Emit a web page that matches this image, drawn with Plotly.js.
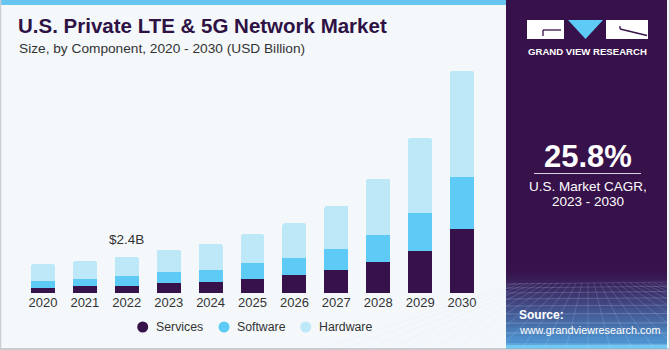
<!DOCTYPE html>
<html>
<head>
<meta charset="utf-8">
<script src="https://cdn.plot.ly/plotly-3.0.1.min.js"></script>
<style>html,body{margin:0;padding:0;background:#F4F8FB;}#chart{width:670px;height:350px;}</style>
</head>
<body>
<div id="chart"></div>
<script>
// ---- data ----
const years = ['2020','2021','2022','2023','2024','2025','2026','2027','2028','2029','2030'];
const services = [0.33, 0.48, 0.48, 0.66, 0.73, 0.95, 1.19, 1.52, 2.05, 2.80, 4.24];
const software = [0.46, 0.46, 0.64, 0.73, 0.81, 1.01, 1.11, 1.39, 1.79, 2.50, 3.44];
const hardware = [1.11, 1.17, 1.28, 1.48, 1.70, 1.92, 2.32, 2.85, 3.71, 4.95, 7.02];
const seriesNames = ['Services', 'Software', 'Hardware'];
const labelYear = '2022';
const labelText = '$2.4B';
const cagrText = '25.8%';

// ---- style ----
const colors = ['#37114A', '#5ECBF6', '#BDE8F8'];
const W = 670, H = 350;
const L = 22, R = 187, T = 60, B = 57;
const PW = W - L - R, PH = H - T - B;
const fx = px => (px - L) / PW;
const fy = py => (H - B - py) / PH;
const panelColor = '#37114A';

const series = [services, software, hardware];
const traces = series.map((vals, i) => ({
  type: 'bar', x: years, y: vals, name: seriesNames[i],
  marker: Object.assign({color: colors[i]}, i === 2 ? {cornerradius: 2} : {}),
  width: 0.57, showlegend: false, hoverinfo: 'x+y+name'
}));

const totals = years.map((_, i) => services[i] + software[i] + hardware[i]);
const li = years.indexOf(labelYear);

const shapes = [];
const rect = (x0, y0, x1, y1, color, extra) => shapes.push(Object.assign({
  type: 'rect', xref: 'paper', yref: 'paper', x0: fx(x0), x1: fx(x1), y0: fy(y1), y1: fy(y0),
  fillcolor: color, line: {width: 0}, layer: 'above'
}, extra || {}));

// frame pieces
rect(0, 0, 506, 5, '#67C6F0');
rect(0, 0, 1.2, 350, '#C9CDD2');
rect(0, 348, 670, 350, '#C9CDD2');
rect(668.8, 0, 670, 350, '#C9CDD2');
// right panel
rect(506, 0, 667, 348, panelColor);
// gradient at bottom of panel
const g0 = [55, 17, 74], g1 = [80, 160, 220];
const gTop = 268, gBot = 348, steps = 28;
for (let s = 0; s < steps; s++) {
  const t = s / (steps - 1);
  const tt = Math.pow(t, 1.2);
  const c = g0.map((v, k) => Math.round(v + (g1[k] - v) * tt));
  const y0 = gTop + (gBot - gTop) * s / steps, y1 = gTop + (gBot - gTop) * (s + 1) / steps + 0.5;
  rect(506, y0, 667, y1, `rgb(${c[0]},${c[1]},${c[2]})`);
}
rect(506, 345, 667, 348, '#6FC9F2');
// perspective grid
const gridLine = (x0, y0, x1, y1, op) => shapes.push({
  type: 'line', xref: 'paper', yref: 'paper', x0: fx(x0), x1: fx(x1), y0: fy(y0), y1: fy(y1),
  line: {color: `rgba(200,225,255,${op})`, width: 0.8}, layer: 'above'
});
[284, 288, 293, 299, 306, 314, 323, 333, 344].forEach((y, k) => gridLine(506, y, 667, y - 2 + k * 0.3, 0.22 + k * 0.02));
for (let k = -12; k <= 12; k++) {
  gridLine(588 + k * 6, 283, 588 + k * 22, 348, 0.22);
}
// logo
rect(527, 20, 564, 39, '#FFFFFF');
rect(606, 20, 648, 39, '#FFFFFF');
shapes.push({type: 'path', xref: 'paper', yref: 'paper', layer: 'above',
  path: `M ${fx(568)} ${fy(20)} L ${fx(603)} ${fy(20)} L ${fx(585.5)} ${fy(39)} Z`,
  fillcolor: '#5ECBF6', line: {width: 0}});
const darkLine = (x0, y0, x1, y1) => shapes.push({type: 'line', xref: 'paper', yref: 'paper', layer: 'above',
  x0: fx(x0), x1: fx(x1), y0: fy(y0), y1: fy(y1), line: {color: panelColor, width: 1.3}});
darkLine(543, 30, 561, 30); darkLine(543, 30, 543, 36);
darkLine(620, 29, 647, 35.5); darkLine(620, 26, 620, 29);
// CAGR underline
shapes.push({type: 'line', xref: 'paper', yref: 'paper', layer: 'above',
  x0: fx(534), x1: fx(641), y0: fy(173.5), y1: fy(173.5), line: {color: '#D8D0E0', width: 1.2}});

const font = 'Liberation Sans, Arial, sans-serif';
const ann = (px, py, text, size, color, extra) => Object.assign({
  xref: 'paper', yref: 'paper', x: fx(px), y: fy(py), text: text, showarrow: false,
  font: {family: font, size: size, color: color}, xanchor: 'center', yanchor: 'middle'
}, extra || {});

const annotations = [
  {x: li, y: totals[li], xref: 'x', yref: 'y', text: labelText, showarrow: false,
   yanchor: 'bottom', yshift: 8, font: {family: font, size: 13.5, color: '#333333'}},
  ann(16, 26, '<b>U.S. Private LTE & 5G Network Market</b>', 20.5, '#2E1244', {xanchor: 'left'}),
  ann(17, 49, 'Size, by Component, 2020 - 2030 (USD Billion)', 13.7, '#333333', {xanchor: 'left'}),
  ann(587.5, 51.5, '<b>GRAND VIEW RESEARCH</b>', 9.6, '#FFFFFF'),
  ann(588, 156, '<b>' + cagrText + '</b>', 31, '#FFFFFF'),
  ann(588, 186, 'U.S. Market CAGR,', 13.5, '#FFFFFF'),
  ann(588, 201, '2023 - 2030', 13.5, '#FFFFFF'),
  ann(517, 315, '<b>Source:</b>', 12, '#FFFFFF', {xanchor: 'left'}),
  ann(517, 330, 'www.grandviewresearch.com', 10.8, '#FFFFFF', {xanchor: 'left'})
];

// legend (circle markers + labels)
const legendX = [142.7, 224, 305.7], legendY = 327, rr = 5.5;
seriesNames.forEach((n, i) => {
  shapes.push({type: 'circle', xref: 'paper', yref: 'paper', layer: 'above',
    x0: fx(legendX[i] - rr), x1: fx(legendX[i] + rr), y0: fy(legendY + rr), y1: fy(legendY - rr),
    fillcolor: colors[i], line: {width: 0}});
  annotations.push(ann(legendX[i] + 11, legendY, n, 12.3, '#333333', {xanchor: 'left'}));
});

const layout = {
  width: W, height: H,
  margin: {l: L, r: R, t: T, b: B, pad: 0},
  paper_bgcolor: '#F4F8FB', plot_bgcolor: 'rgba(0,0,0,0)',
  barmode: 'stack', bargap: 0.43,
  font: {family: font, color: '#333333'},
  xaxis: {type: 'category', range: [-0.5, 10.5], showline: false, showgrid: false, zeroline: false,
    ticks: '', ticklabelstandoff: 0, tickfont: {family: font, size: 13, color: '#333333'}, fixedrange: true},
  yaxis: {range: [0, PH / 15.1], visible: false, showgrid: false, zeroline: false, fixedrange: true},
  showlegend: false,
  shapes: shapes,
  annotations: annotations
};

Plotly.newPlot('chart', traces, layout, {displayModeBar: false, staticPlot: true});
</script>
</body>
</html>
